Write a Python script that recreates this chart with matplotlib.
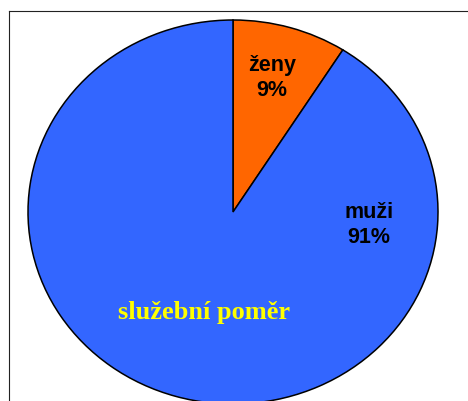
import matplotlib.pyplot as plt
from matplotlib.lines import Line2D

# data
labels = ['ženy', 'muži']
values = [9, 91]
colors = ['#FF6600', '#3366FF']
title_text = 'služební poměr'

W, H = 468, 401
fig = plt.figure(figsize=(W / 100, H / 100), dpi=100)
ax = fig.add_axes([0, 0, 1, 1])

# pie centre / radii in pixels (slightly oval, like the original)
cx, cy = 233, 212
rx, ry = 205, 192

ax.pie(values, colors=colors, startangle=90, counterclock=False,
       wedgeprops=dict(edgecolor='black', linewidth=1.1))
ax.set_aspect('auto')
ax.set_xlim(-cx / rx, (W - cx) / rx)
ax.set_ylim(-(H - cy) / ry, cy / ry)
ax.axis('off')

def fx(px):
    return px / W

def fy(py):
    return 1 - py / H

# slice labels
fig.text(fx(272), fy(78), f'{labels[0]}\n{values[0]}%', ha='center', va='center',
         fontsize=15.5, fontweight='bold', family='Liberation Sans', linespacing=1.25)
fig.text(fx(369), fy(225), f'{labels[1]}\n{values[1]}%', ha='center', va='center',
         fontsize=15.5, fontweight='bold', family='Liberation Sans', linespacing=1.25)

fig.text(fx(204), fy(313), title_text, ha='center', va='center', color='#FFFF00',
         fontsize=19, fontweight='bold', family='Liberation Serif')

# outer frame (left and top edges only visible)
fig.add_artist(Line2D([fx(8.5), fx(8.5)], [fy(10.5), 0], color='#222222', linewidth=0.8))
fig.add_artist(Line2D([fx(8.5), 1], [fy(10.5), fy(10.5)], color='#222222', linewidth=0.8))

fig.savefig('out.png', dpi=100)
